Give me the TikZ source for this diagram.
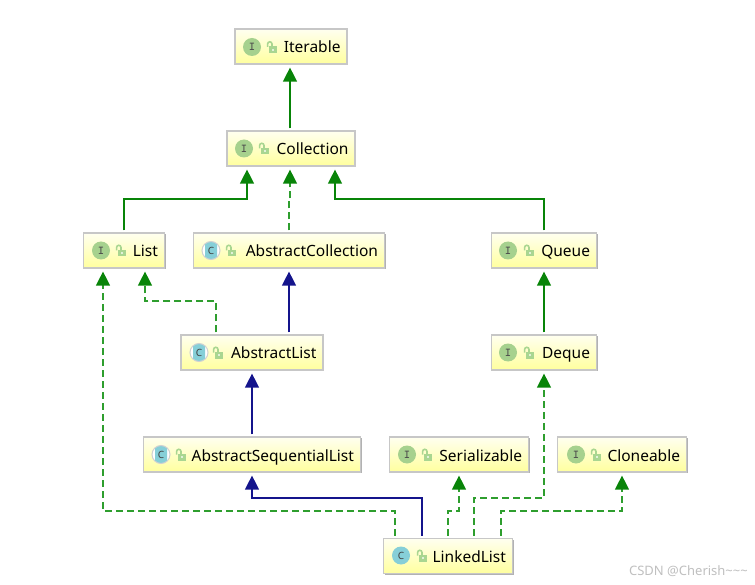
\documentclass[tikz,border=0pt]{standalone}
\usepackage{fontspec}
\setmainfont{Noto Sans}
\usetikzlibrary{arrows.meta,shadows}
\definecolor{linkgreen}{HTML}{088408}
\definecolor{linknavy}{HTML}{14148C}
\definecolor{dashgreen}{HTML}{2E9E2E}
\definecolor{icongreen}{HTML}{A6D18E}
\definecolor{iconteal}{HTML}{86CFD8}
\definecolor{lockgreen}{HTML}{A9D691}
\tikzset{
  umlbox/.style={draw=black!22,line width=1.2pt,top color=yellow!6,bottom color=yellow!38,
    general shadow={shadow xshift=1pt,shadow yshift=-1pt,fill=black!30},
    minimum height=35pt,inner ysep=0pt,inner xsep=6.5pt,text width=#1,text height=16pt,text depth=3pt,align=right,font=\fontsize{15.5}{18}\selectfont},
  iconI/.style={circle,fill=icongreen,minimum size=18pt,inner sep=0pt,text=black!70,font=\fontsize{12}{12}\selectfont\ttfamily\bfseries},
  iconC/.style={circle,fill=iconteal,minimum size=18pt,inner sep=0pt,text=black!75,font=\fontsize{10}{10}\selectfont\bfseries},
  iconA/.style={circle,draw=black!18,line width=1pt,fill=white,minimum size=18pt,inner sep=0pt,text=black!75,font=\fontsize{10}{10}\selectfont\bfseries,
    path picture={\fill[iconteal,rounded corners=2pt] ([xshift=-6pt,yshift=-10pt]path picture bounding box.center) rectangle ([xshift=6pt,yshift=10pt]path picture bounding box.center);}},
  lockicon/.pic={
    \fill[lockgreen] (-3.5,-0.5) rectangle (5,6);
    \fill[white!65!lockgreen] (0,1.8) rectangle (2,3.6);
    \draw[lockgreen,line width=1.6pt] (-4.4,0) -- (-4.4,-3) arc (180:360:2.2) -- (0,-0.5);
  },
  realize/.style={linkgreen,line width=1.3pt,-{Triangle[width=14pt,length=14pt]},shorten >=3pt,shorten <=2pt},
  extendnavy/.style={linknavy,line width=1.3pt,-{Triangle[width=14pt,length=14pt]},shorten >=3pt,shorten <=2pt},
  implement/.style={dashgreen,line width=1.3pt,dash pattern=on 7pt off 4pt,-{Triangle[width=14pt,length=14pt,fill=linkgreen,color=linkgreen]},shorten >=3pt,shorten <=2pt}
}
\begin{document}
\begin{tikzpicture}[x=1pt,y=-1pt]
  \useasboundingbox (0,0) rectangle (755,585);
  \node[umlbox=99pt] (iterable) at (291,46.5) {Iterable};
  \node[umlbox=115pt] (collection) at (291,148.5) {Collection};
  \node[umlbox=68pt] (list) at (124,250.5) {List};
  \node[umlbox=178pt] (abscollection) at (289,250.5) {AbstractCollection};
  \node[umlbox=92pt] (queue) at (544,250.5) {Queue};
  \node[umlbox=129pt] (abslist) at (252,352.5) {AbstractList};
  \node[umlbox=92pt] (deque) at (544,352.5) {Deque};
  \node[umlbox=204pt] (absseqlist) at (252,454.5) {AbstractSequentialList};
  \node[umlbox=126pt] (serializable) at (459,454.5) {Serializable};
  \node[umlbox=116pt] (cloneable) at (622,454.5) {Cloneable};
  \node[umlbox=116pt] (linkedlist) at (448,556) {LinkedList};
  % icons
  \node[iconI] (iterableicon) at (252,47) {I};
  \node[iconI] (collectionicon) at (244,148.5) {I};
  \node[iconI] (listicon) at (101,250.5) {I};
  \node[iconA] (abscollectionicon) at (211,250.5) {C};
  \node[iconI] (queueicon) at (508,250.5) {I};
  \node[iconA] (abslisticon) at (199,352.5) {C};
  \node[iconI] (dequeicon) at (508,352.5) {I};
  \node[iconA] (absseqlisticon) at (161,454.5) {C};
  \node[iconI] (serializableicon) at (407,454.5) {I};
  \node[iconI] (cloneableicon) at (576,454.5) {I};
  \node[iconC] (linkedlisticon) at (401,555.5) {C};
  \foreach \lx/\ly in {272/47,264/148.5,121/250.5,231/250.5,529/250.5,218/352.5,529/352.5,181/454.5,427/454.5,596/454.5,422/555.5}
    \pic at (\lx,\ly) {lockicon};
  % arrows
  \begin{scope}
    \draw[realize] ([xshift=-1pt]collection.north) -- ([xshift=-1pt]iterable.south);
    \draw[realize] (list.north) |- (185,199) -| ([xshift=-44pt]collection.south);
    \draw[realize] (queue.north) |- (400,199) -| ([xshift=44pt]collection.south);
    \draw[realize] (deque.north) -- (queue.south);
    \draw[implement] (abscollection.north) |- (289,199) -| ([xshift=-1pt]collection.south);
    \draw[extendnavy] ([xshift=37pt]abslist.north) -- (abscollection.south);
    \draw[implement] ([xshift=-36pt]abslist.north) |- (180,301) -| ([xshift=21pt]list.south);
    \draw[extendnavy] (absseqlist.north) -- (abslist.south);
    \draw[extendnavy] ([xshift=-26pt]linkedlist.north) |- (300,498) -| (absseqlist.south);
    \draw[implement] ([xshift=-53pt]linkedlist.north) |- (250,511) -| ([xshift=-21pt]list.south);
    \draw[implement] (linkedlist.north) |- (453,511) -| (serializable.south);
    \draw[implement] ([xshift=26pt]linkedlist.north) |- (510,498) -| (deque.south);
    \draw[implement] ([xshift=53pt]linkedlist.north) |- (560,511) -| (cloneable.south);
  \end{scope}
  \node[text=black!25,font=\fontsize{13}{14}\selectfont,anchor=east,inner sep=0pt] (watermark) at (748,571) {CSDN @Cherish\textasciitilde\textasciitilde\textasciitilde};
\end{tikzpicture}
\end{document}
